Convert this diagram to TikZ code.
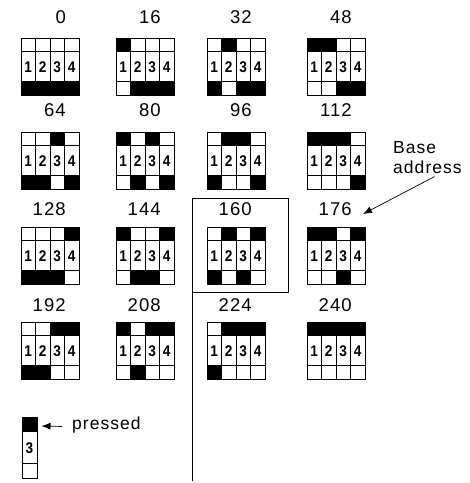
\documentclass[tikz,border=0pt]{standalone}
\usepackage{fontspec}
\setmainfont{Liberation Sans}
\newfontfamily\labelfont[LetterSpace=6]{Liberation Sans}
\newfontfamily\keyfont[FakeStretch=0.88]{Liberation Sans}
\usetikzlibrary{arrows.meta, positioning}

\begin{document}
\begin{tikzpicture}[x=1pt, y=-1pt, >={Latex[length=9pt,width=7pt]},
		label/.style={font=\labelfont\fontsize{18.5}{18.5}\selectfont, anchor=east, inner sep=0pt},
		digit/.style={font=\keyfont\bfseries\fontsize{15.5}{15.5}\selectfont, inner sep=0pt},
		cell/.style={draw, line width=1pt},
		note/.style={font=\labelfont\fontsize{17.5}{20}\selectfont, align=left, inner sep=0pt}]
		\useasboundingbox (0,0) rectangle (470,483);
		% keypads, one per base address
		\foreach \row/\ytop/\ylab in {0/38/17, 1/132/110, 2/227/209, 3/322/305}
		\foreach \col/\xl in {0/21, 1/116, 2/207, 3/307} {
			\pgfmathtruncatemacro{\n}{4*\row+\col}
			\pgfmathtruncatemacro{\code}{16*\n}
			\node[label] (lab\code) at (\xl+45,\ylab) {\code};
			\foreach \k in {0,...,3} {
				\pgfmathtruncatemacro{\bit}{mod(floor(\n/2^\k),2)}
				\pgfmathtruncatemacro{\dig}{\k+1}
				\ifnum\bit=1 \def\topfill{black}\def\botfill{white}\else\def\topfill{white}\def\botfill{black}\fi
				\draw[cell, fill=\topfill] (\xl+14.5*\k,\ytop) rectangle ++(14.5,13);
				\draw[cell] (\xl+14.5*\k,\ytop+13) rectangle ++(14.5,30);
				\draw[cell, fill=\botfill] (\xl+14.5*\k,\ytop+43) rectangle ++(14.5,14);
				\node[digit] (key\code-\dig) at (\xl+14.5*\k+7.25,\ytop+29) {\dig};
			}
		}
		% frame round 160
		\draw[line width=1pt] (192,481) -- (192,198) -- (288,198) -- (288,292) -- (192,292);
		% base address
		\node[note, anchor=north west] (base) at (393,141) {Base\\address};
		\draw[->, line width=0.7pt] ([xshift=7pt, yshift=-3pt]base.south) -- ([xshift=11pt, yshift=-5pt]lab176.east);
		% legend
		\node[cell, fill=black, minimum width=15pt, minimum height=14pt, inner sep=0pt] (presskey) at (29.5,424) {};
		\draw[cell] (22,431) rectangle (37,463);
		\node[digit] (legend3) at (29.5,448) {3};
		\draw[cell] (22,463) rectangle (37,478);
		\node[note, anchor=base west] (pressed) at (72,429) {pressed};
		\draw[->, line width=0.7pt] ([xshift=-10pt, yshift=-2pt]pressed.west) -- ([xshift=4pt, yshift=-2pt]presskey.east);
	\end{tikzpicture}
\end{document}
